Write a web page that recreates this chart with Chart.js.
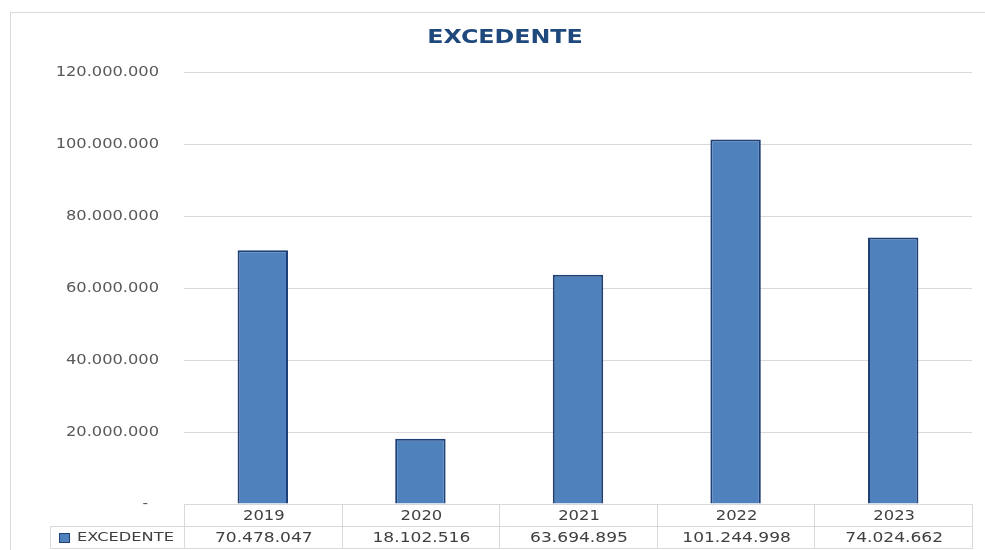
<!DOCTYPE html>
<html>
<head>
<meta charset="utf-8">
<script src="https://cdn.jsdelivr.net/npm/chart.js@4/dist/chart.umd.min.js"></script>
<style>
  html, body { margin: 0; padding: 0; background: #fff; }
  #wrap { position: relative; width: 985px; height: 550px; }
</style>
</head>
<body>
<div id="wrap"><canvas id="chart"></canvas></div>
<script>
"use strict";

const years = ["2019", "2020", "2021", "2022", "2023"];
const excedente = [70478047, 18102516, 63694895, 101244998, 74024662];
const seriesName = "EXCEDENTE";
const chartTitle = "EXCEDENTE";
const yMax = 120000000;
const yStep = 20000000;

const fontName = "'DejaVu Sans', sans-serif";
const gridColor = "#d9d9d9";
const textColor = "#404040";
const barFill = "#4f81bd";
const barEdge = "#1f3f77";

function formatNum(v){
    if(v === 0) return "-";
    return String(Math.round(v)).replace(/\B(?=(\d{3})+(?!\d))/g, ".");
}

// the original text is stretched sideways, so draw it scaled in x
function wideText(ctx, text, x, y, sx){
    ctx.save();
    ctx.translate(x, y);
    ctx.scale(sx, 1);
    ctx.fillText(text, 0, 0);
    ctx.restore();
}

// frame, title, y labels and the data table under the axis
const tablePlugin = {
    id: "dataTable",
    beforeDraw(chart){
        const ctx = chart.ctx;
        ctx.save();
        ctx.strokeStyle = gridColor;
        ctx.lineWidth = 1;
        ctx.strokeRect(10.5, 12.5, chart.width, chart.height);
        ctx.restore();
    },
    afterDraw(chart){
        const ctx = chart.ctx;
        const area = chart.chartArea;
        const xs = chart.scales.x;
        const ys = chart.scales.y;
        const top = Math.round(area.bottom) + 0.5;
        const mid = top + 22;
        const bot = mid + 22;
        const legendLeft = 50.5;

        ctx.save();
        ctx.textBaseline = "middle";

        // title
        ctx.fillStyle = "#1f497d";
        ctx.font = "bold 19px " + fontName;
        ctx.textAlign = "center";
        wideText(ctx, chartTitle, 505, 38, 1.25);

        // y tick labels
        ctx.fillStyle = "#595959";
        ctx.font = "14px " + fontName;
        ctx.textAlign = "right";
        ys.ticks.forEach(t => {
            const y = ys.getPixelForValue(t.value);
            if(t.value === 0){
                wideText(ctx, formatNum(t.value), 148, y, 1.1);
            } else {
                wideText(ctx, formatNum(t.value), 159, y, 1.16);
            }
        });

        let edges = [Math.round(area.left) + 0.5];
        const half = (xs.getPixelForValue(1) - xs.getPixelForValue(0)) / 2;
        for(let i = 0; i < years.length; i++){
            edges.push(Math.round(xs.getPixelForValue(i) + half) + 0.5);
        }
        const right = edges[edges.length - 1];

        ctx.strokeStyle = gridColor;
        ctx.lineWidth = 1;
        ctx.beginPath();
        ctx.moveTo(edges[0], top); ctx.lineTo(right, top);
        ctx.moveTo(legendLeft, mid); ctx.lineTo(right, mid);
        ctx.moveTo(legendLeft, bot); ctx.lineTo(right, bot);
        ctx.moveTo(legendLeft, mid); ctx.lineTo(legendLeft, bot);
        edges.forEach(e => { ctx.moveTo(e, top); ctx.lineTo(e, bot); });
        ctx.stroke();

        ctx.fillStyle = textColor;
        ctx.textAlign = "center";
        ctx.font = "14px " + fontName;
        years.forEach((y, i) => {
            const c = xs.getPixelForValue(i) + 1;
            wideText(ctx, y, c, top + 11.5, 1.17);
            wideText(ctx, formatNum(excedente[i]), c, mid + 11.5, 1.22);
        });

        // legend key
        ctx.fillStyle = barFill;
        ctx.fillRect(59, 533, 11, 10);
        ctx.strokeStyle = barEdge;
        ctx.strokeRect(59.5, 533.5, 10, 9);
        ctx.fillStyle = textColor;
        ctx.textAlign = "left";
        ctx.font = "13px " + fontName;
        wideText(ctx, seriesName, 77, mid + 11.5, 1.25);
        ctx.restore();
    }
};

new Chart(document.getElementById("chart"), {
    type: "bar",
    data: {
        labels: years,
        datasets: [{
            label: seriesName,
            data: excedente,
            backgroundColor: barFill,
            borderColor: barEdge,
            borderWidth: 2,
            categoryPercentage: 1,
            barPercentage: 0.32
        }]
    },
    options: {
        responsive: true,
        maintainAspectRatio: false,
        animation: false,
        layout: { padding: { top: 72, right: 13, bottom: 2, left: 0 } },
        plugins: {
            legend: { display: false },
            tooltip: { enabled: false },
            title: { display: false }
        },
        scales: {
            x: {
                grid: { display: false },
                border: { display: false },
                ticks: { display: false },
                afterFit(scale){ scale.height = 44; }
            },
            y: {
                min: 0,
                max: yMax,
                grid: { color: gridColor, drawTicks: false },
                border: { display: false },
                ticks: { stepSize: yStep, display: false },
                afterFit(scale){ scale.width = 184; }
            }
        }
    },
    plugins: [tablePlugin]
});
</script>
</body>
</html>
